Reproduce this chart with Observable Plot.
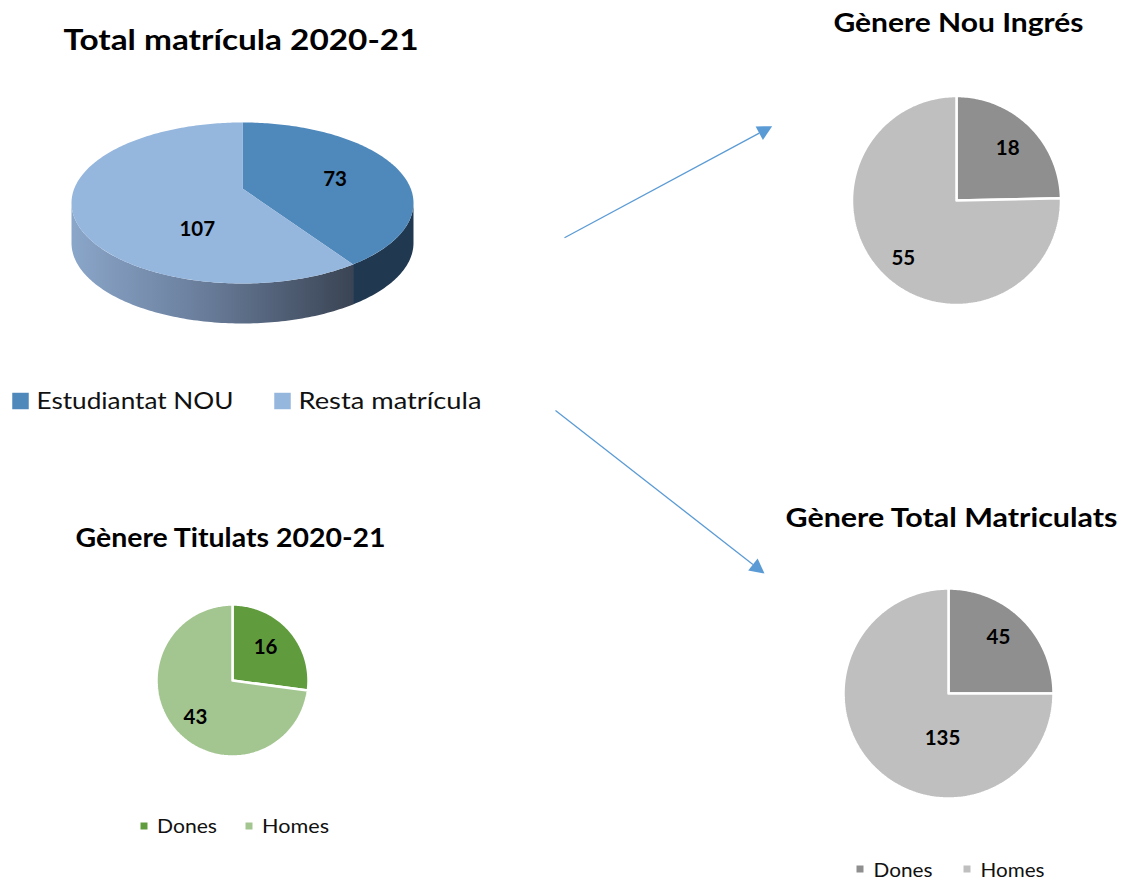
<!DOCTYPE html>
<html><head><meta charset="utf-8">
<script src="https://cdn.jsdelivr.net/npm/d3@7"></script>
<script src="https://cdn.jsdelivr.net/npm/@observablehq/plot@0.6"></script>
<style>body{margin:0;background:#fff} #chart svg{display:block}</style>
</head><body><div id="chart"></div>
<script>
// ---------- data ----------
const totalCategories = ["Estudiantat NOU", "Resta matrícula"];
const totalValues = [73, 107];
const genderCategories = ["Dones", "Homes"];
const nouIngresValues = [18, 55];
const totalMatriculatsValues = [45, 135];
const titulatsValues = [16, 43];
const chartTitles = ["Total matrícula 2020-21", "Gènere Nou Ingrés", "Gènere Total Matriculats", "Gènere Titulats 2020-21"];

// ---------- layout / style ----------
const W = 1122, H = 882;
const FONT = "Lato, 'Open Sans', sans-serif";
const P3 = {cx: 242, cy: 188, A: 168.2, B: 77.9, k: 0.18, depth: 40,
  top: ["#4f88bb", "#95b6dd"], side: ["#213851", "url(#sideGrad)"], labelR: 0.58, nudges: [[2, 4], [51, 27]]};
const pies2d = [
  {values: nouIngresValues, cx: 956, cy: 200, r: 104.5, colors: ["#8f8f8f", "#bfbfbf"], labelR: 0.7, nudges: [[0, 0], [-2, 6]]},
  {values: totalMatriculatsValues, cx: 948, cy: 693, r: 105, colors: ["#8f8f8f", "#bfbfbf"], labelR: 0.7, nudges: [[-2, -4], [46, -7]]},
  {values: titulatsValues, cx: 232, cy: 680, r: 76, colors: ["#609c3e", "#a3c590"], labelR: 0.7, nudges: [[-7, 2], [3, 2]]}
];
const titleLayout = [
  {x: 240.5, y: 49, size: 28.5, len: 355},
  {x: 958, y: 31.5, size: 26.5, len: 250},
  {x: 951, y: 526.5, size: 26.5, len: 332},
  {x: 230, y: 546.5, size: 26.5, len: 310}
];
const legendLayout = [
  {cats: totalCategories, colors: P3.top, xs: [20, 282], y: 400.5, r: 9.3, dx: 16, size: 22.5, base: 408.5, lens: [197, 183]},
  {cats: genderCategories, colors: pies2d[2].colors, xs: [143.5, 248.5], y: 825.5, r: 3.95, dx: 13, size: 19.5, base: 832, lens: [60, 67]},
  {cats: genderCategories, colors: pies2d[1].colors, xs: [859.5, 966.5], y: 868.5, r: 3.95, dx: 13.5, size: 19.5, base: 876.5, lens: [59, 64]}
];
const arrows = [
  {x1: 564, y1: 237.3, x2: 771.7, y2: 125.7},
  {x1: 555, y1: 410, x2: 764, y2: 573}
];
const ARROW_COLOR = "#5b9bd5", HEAD_L = 14.7, HEAD_HW = 7.7;

// ---------- geometry from data ----------
const pieGen = d3.pie().sort(null).value(d => d);
const polys = [];
const labels = [];
const step = Math.PI / 180;

function pushPoly(id, fill, pts) {
  pts.forEach(([x, y]) => polys.push({x, y, z: id, fill}));
}

// 3D pie
function proj3d(theta, rho, dz) {
  const u = rho * Math.sin(theta), v = rho * Math.cos(theta), s = 1 + P3.k * v;
  return [P3.cx + P3.A * u / s, P3.cy - P3.B * v / s + dz];
}
function arcPts(a0, a1, rho, dz) {
  const n = Math.max(2, Math.ceil(Math.abs(a1 - a0) / step));
  return d3.range(n + 1).map(i => proj3d(a0 + (a1 - a0) * i / n, rho, dz));
}
const arcs3 = pieGen(totalValues);
const tR = Math.acos(-P3.k), tL = 2 * Math.PI - tR;
const sidePolys = [], topPolys = [];
arcs3.forEach((a, i) => {
  const s0 = Math.max(a.startAngle, tR), s1 = Math.min(a.endAngle, tL);
  if (s0 < s1) {
    const pts = arcPts(s0, s1, 1, 0).concat(arcPts(s1, s0, 1, P3.depth));
    pts.push(pts[0]);
    sidePolys.push(["side3d-" + i, P3.side[i], pts]);
  }
  const c = proj3d(0, 0, 0);
  topPolys.push(["top3d-" + i, P3.top[i], [c, ...arcPts(a.startAngle, a.endAngle, 1, 0), c]]);
  const mid = (a.startAngle + a.endAngle) / 2;
  const [lx, ly] = proj3d(mid, P3.labelR, 0);
  labels.push({x: lx + P3.nudges[i][0], y: ly + P3.nudges[i][1], text: String(a.value)});
});
sidePolys.forEach(p => pushPoly(...p));
topPolys.forEach(p => pushPoly(...p));
const polys3d = polys.splice(0);

// 2D pies
pies2d.forEach((p, j) => {
  pieGen(p.values).forEach((a, i) => {
    const n = Math.max(2, Math.ceil((a.endAngle - a.startAngle) / step));
    const pts = [[p.cx, p.cy]];
    for (let t = 0; t <= n; t++) {
      const ang = a.startAngle + (a.endAngle - a.startAngle) * t / n;
      pts.push([p.cx + p.r * Math.sin(ang), p.cy - p.r * Math.cos(ang)]);
    }
    pts.push([p.cx, p.cy]);
    pushPoly("pie" + j + "-" + i, p.colors[i], pts);
    const mid = (a.startAngle + a.endAngle) / 2, lr = p.r * p.labelR;
    labels.push({x: p.cx + lr * Math.sin(mid) + p.nudges[i][0], y: p.cy - lr * Math.cos(mid) + p.nudges[i][1], text: String(a.value)});
  });
});

// arrows
const heads = [];
arrows.forEach((a, i) => {
  const len = Math.hypot(a.x2 - a.x1, a.y2 - a.y1);
  const ux = (a.x2 - a.x1) / len, uy = (a.y2 - a.y1) / len;
  const bx = a.x2 - HEAD_L * ux, by = a.y2 - HEAD_L * uy;
  a.bx = bx; a.by = by;
  const pts = [[a.x2, a.y2], [bx - HEAD_HW * uy, by + HEAD_HW * ux], [bx + HEAD_HW * uy, by - HEAD_HW * ux], [a.x2, a.y2]];
  pts.forEach(([x, y]) => heads.push({x, y, z: "head" + i, fill: ARROW_COLOR}));
});

const titleRows = chartTitles.map((t, i) => ({text: t, ...titleLayout[i]}));
const textLengths = [];
const legendMarks = [];
legendLayout.forEach(L => {
  const rows = L.cats.map((c, i) => ({x: L.xs[i], y: L.y, tx: L.xs[i] + L.dx, ty: L.base, text: c, fill: L.colors[i], len: L.lens[i]}));
  legendMarks.push(Plot.dot(rows, {x: "x", y: "y", symbol: "square", r: L.r, fill: "fill", stroke: "none"}));
  legendMarks.push(Plot.text(rows, {x: "tx", y: "ty", text: "text", textAnchor: "start", lineAnchor: "bottom", fontSize: L.size, fill: "#111", fontFamily: FONT}));
  textLengths.push(rows);
});
textLengths.unshift(titleRows);

const chart = Plot.plot({
  width: W, height: H, margin: 0,
  x: {type: "linear", domain: [0, W], range: [0, W], axis: null},
  y: {type: "linear", domain: [0, H], range: [0, H], axis: null},
  color: {type: "identity"},
  style: {fontFamily: FONT, background: "#fff"},
  marks: [
    Plot.line(polys3d, {x: "x", y: "y", z: "z", fill: "fill", stroke: "none", curve: "linear"}),
    Plot.line(polys, {x: "x", y: "y", z: "z", fill: "fill", stroke: "#fff", strokeWidth: 2.5, strokeLinejoin: "miter", curve: "linear"}),
    Plot.link(arrows, {x1: "x1", y1: "y1", x2: "bx", y2: "by", stroke: ARROW_COLOR, strokeWidth: 1.3}),
    Plot.line(heads, {x: "x", y: "y", z: "z", fill: "fill", stroke: "none", curve: "linear"}),
    Plot.text(labels, {x: "x", y: "y", text: "text", fontSize: 20.5, fontWeight: "bold", fill: "#000", lineAnchor: "middle", fontFamily: FONT}),
    Plot.text(titleRows, {x: "x", y: "y", text: "text", fontSize: d => d.size, fontWeight: "bold", fill: "#000", lineAnchor: "bottom", fontFamily: FONT}),
    ...legendMarks
  ]
});

// Calibri (reference font) is wider than Lato: stretch each text to the reference width
const textGroups = chart.querySelectorAll('g[aria-label="text"]');
textLengths.forEach((rows, gi) => {
  const g = textGroups[gi + 1];
  if (!g) return;
  g.querySelectorAll("text").forEach((t, i) => {
    if (rows[i] && rows[i].len) { t.setAttribute("textLength", rows[i].len); t.setAttribute("lengthAdjust", "spacingAndGlyphs"); }
  });
});

const defs = d3.select(chart).insert("defs", ":first-child");
const grad = defs.append("linearGradient").attr("id", "sideGrad")
  .attr("gradientUnits", "userSpaceOnUse").attr("x1", 71).attr("x2", 352).attr("y1", 0).attr("y2", 0);
[[0, "#8aa6c9"], [0.45, "#6b7f9d"], [1, "#3a4454"]].forEach(([o, c]) =>
  grad.append("stop").attr("offset", o).attr("stop-color", c));

document.getElementById("chart").appendChild(chart);
</script>
</body></html>
